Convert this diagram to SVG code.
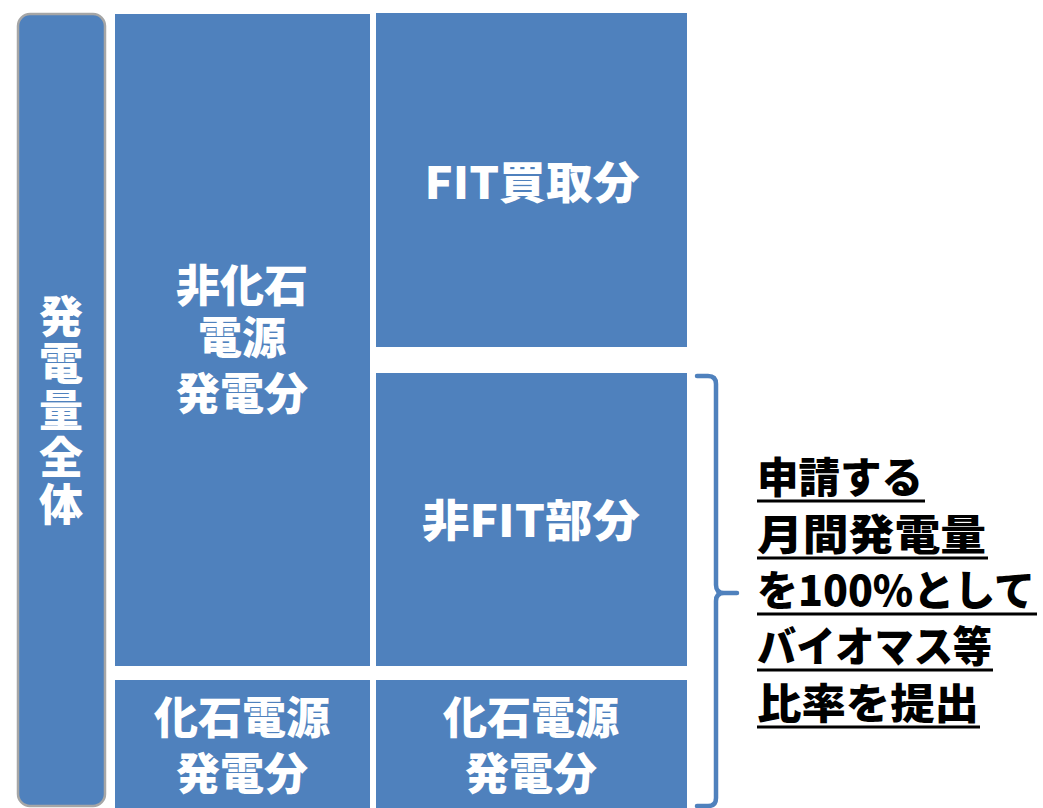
<svg xmlns="http://www.w3.org/2000/svg" width="1043" height="808" viewBox="0 0 1043 808">
  <style>
    .box { fill: #4F81BD; }
    .wt { fill: #FFFFFF; font-family: "Noto Sans CJK JP", "Noto Sans", sans-serif; font-weight: 900; font-size: 44px; text-anchor: middle; }
    .vt { fill: #FFFFFF; font-family: "Noto Sans CJK JP", "Noto Sans", sans-serif; font-weight: 900; font-size: 44px; writing-mode: vertical-rl; letter-spacing: 3px; }
    .bk { fill: #000000; font-family: "Noto Sans CJK JP", "Noto Sans", sans-serif; font-weight: 900; font-size: 42px; }
    .ul { stroke: #000000; stroke-width: 3; }
    .brace { fill: none; stroke: #4F81BD; stroke-width: 4.5; stroke-linecap: round; stroke-linejoin: round; }
  </style>

  <g id="total">
    <rect x="18" y="14" width="87" height="792" rx="12" ry="12" fill="#4F81BD" stroke="#A6A6A6" stroke-width="2.5"/>
    <text class="vt" x="61" y="294">発電量全体</text>
  </g>

  <g id="nonfossil">
    <rect class="box" x="115" y="14" width="255" height="652"/>
    <text class="wt"><tspan x="242" y="302">非化石</tspan><tspan x="242" y="354">電源</tspan><tspan x="242" y="410">発電分</tspan></text>
  </g>

  <g id="fit">
    <rect class="box" x="376" y="13" width="311" height="334"/>
    <text class="wt" x="532" y="199" textLength="215" lengthAdjust="spacingAndGlyphs">FIT買取分</text>
  </g>

  <g id="nonfit">
    <rect class="box" x="376" y="373" width="311" height="293"/>
    <text class="wt" x="531" y="537" textLength="218" lengthAdjust="spacingAndGlyphs">非FIT部分</text>
  </g>

  <g id="fossil-left">
    <rect class="box" x="115" y="680" width="255" height="130"/>
    <text class="wt"><tspan x="242" y="734">化石電源</tspan><tspan x="242" y="790">発電分</tspan></text>
  </g>

  <g id="fossil-right">
    <rect class="box" x="376" y="680" width="311" height="130"/>
    <text class="wt"><tspan x="531" y="734">化石電源</tspan><tspan x="531" y="790">発電分</tspan></text>
  </g>

  <g id="connectors">
    <path class="brace" d="M697,376 H708 Q716,376 716,384 V585 Q716,593 724,593 H737 M724,593 Q716,593 716,601 V798 Q716,806 708,806 H697"/>
  </g>

  <g id="note">
    <text class="bk" x="757" y="493" textLength="166" lengthAdjust="spacingAndGlyphs">申請する</text>
    <line class="ul" x1="757" y1="501" x2="925" y2="501"/>
    <text class="bk" x="757" y="550" textLength="229" lengthAdjust="spacingAndGlyphs">月間発電量</text>
    <line class="ul" x1="757" y1="558" x2="988" y2="558"/>
    <text class="bk" x="757" y="606" textLength="278" lengthAdjust="spacingAndGlyphs">を100%として</text>
    <line class="ul" x1="757" y1="614" x2="1037" y2="614"/>
    <text class="bk" x="757" y="662" textLength="235" lengthAdjust="spacingAndGlyphs">バイオマス等</text>
    <line class="ul" x1="757" y1="670" x2="993" y2="670"/>
    <text class="bk" x="757" y="719" textLength="222" lengthAdjust="spacingAndGlyphs">比率を提出</text>
    <line class="ul" x1="757" y1="727" x2="980" y2="727"/>
  </g>
</svg>
